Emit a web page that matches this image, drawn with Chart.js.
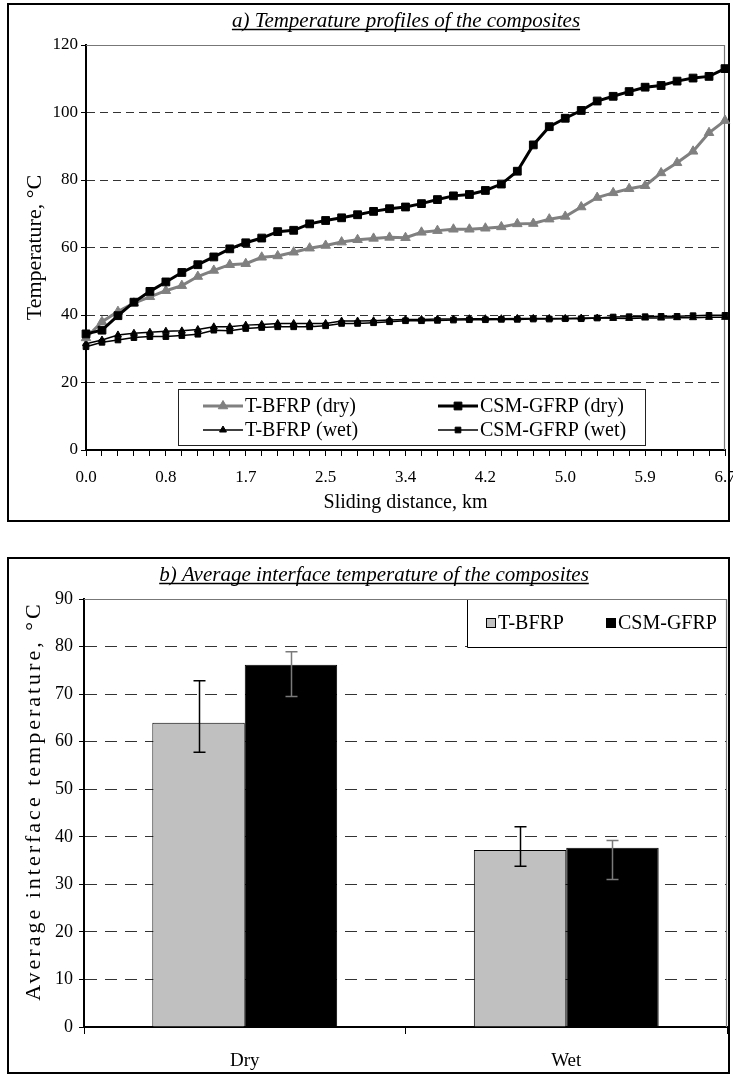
<!DOCTYPE html>
<html><head><meta charset="utf-8">
<script src="https://cdn.jsdelivr.net/npm/chart.js@4.4.1/dist/chart.umd.min.js"></script>
<style>
html,body{margin:0;padding:0;background:#fff;}
body{width:733px;height:1076px;position:relative;overflow:hidden;}
.frame{position:absolute;border:2px solid #000;box-sizing:border-box;}
canvas{position:absolute;left:0;}
</style></head>
<body>
<div class="frame" style="left:7px;top:3px;width:723px;height:519px"></div>
<div class="frame" style="left:7px;top:557px;width:723px;height:517px"></div>
<canvas id="c1" width="733" height="525" style="top:0"></canvas>
<canvas id="c2" width="733" height="546" style="top:530px"></canvas>
<script>
// ---------- data: chart a ----------
const distances = [0.00,0.17,0.34,0.50,0.67,0.84,1.01,1.17,1.34,1.51,1.68,1.84,2.01,2.18,2.35,2.51,2.68,2.85,3.02,3.18,3.35,3.52,3.69,3.85,4.02,4.19,4.36,4.52,4.69,4.86,5.03,5.19,5.36,5.53,5.70,5.86,6.03,6.20,6.37,6.53,6.70];
const distanceTickLabels = ['0.0','0.8','1.7','2.5','3.4','4.2','5.0','5.9','6.7'];
const tbfrpDry = [33.2,38.0,41.0,43.5,45.4,47.2,48.7,51.4,53.2,54.9,55.2,57.1,57.5,58.6,59.8,60.6,61.6,62.3,62.7,63.0,62.9,64.5,65.0,65.4,65.4,65.7,66.1,67.0,67.1,68.4,69.2,72.0,74.8,76.2,77.4,78.3,82.1,85.1,88.5,94.0,97.6];
const csmDry = [34.4,35.5,39.8,43.8,47.0,49.8,52.6,54.9,57.2,59.6,61.4,62.8,64.7,65.1,67.0,68.0,68.8,69.7,70.7,71.5,72.0,73.0,74.2,75.3,75.7,76.9,78.8,82.6,90.4,95.8,98.3,100.6,103.4,104.8,106.2,107.5,108.0,109.3,110.2,110.7,113.0];
const tbfrpWet = [31.5,32.6,34.1,34.6,34.9,35.2,35.3,35.7,36.5,36.5,37.0,37.2,37.5,37.5,37.5,37.5,38.2,38.2,38.3,38.5,38.7,38.7,38.8,38.8,38.9,38.9,38.9,39.0,39.0,39.0,39.0,39.1,39.1,39.0,39.0,39.1,39.1,39.2,39.2,39.3,39.3];
const csmWet = [30.6,31.9,32.6,33.3,33.6,33.6,33.9,34.3,35.5,35.3,36.0,36.3,36.5,36.5,36.5,36.8,37.5,37.5,37.7,38.0,38.3,38.3,38.4,38.5,38.6,38.6,38.7,38.7,38.8,38.8,38.9,38.9,39.1,39.4,39.5,39.5,39.6,39.6,39.8,39.9,39.9];
const tempMin = 0, tempMax = 120, tempStep = 20;

// ---------- data: chart b ----------
const barCategories = ['Dry','Wet'];
const barTbfrp = [64.0, 37.2];
const barCsm = [76.2, 37.7];
const errTbfrpLow = [57.8, 33.8];
const errTbfrpHigh = [72.8, 42.1];
const errCsmLow = [69.5, 31.0];
const errCsmHigh = [78.9, 39.2];
const avgMin = 0, avgMax = 90, avgStep = 10;

const SERIF = "'Liberation Serif','Times New Roman',serif";
Chart.defaults.font.family = SERIF;
Chart.defaults.color = '#000';

function drawMarker(ctx, style, r, x, y, fill, stroke, bw) {
  ctx.beginPath();
  if (style === 'rect') {
    const s = r * Math.SQRT1_2;
    ctx.rect(x - s, y - s, 2 * s, 2 * s);
  } else {
    ctx.moveTo(x, y - r);
    ctx.lineTo(x + 0.866 * r, y + 0.5 * r);
    ctx.lineTo(x - 0.866 * r, y + 0.5 * r);
    ctx.closePath();
  }
  ctx.fillStyle = fill; ctx.fill();
  if (bw) { ctx.lineWidth = bw; ctx.strokeStyle = stroke; ctx.stroke(); }
}

function titlePlugin(text, x, baseline, size) {
  return {
    id: 'ulTitle',
    afterDraw(chart) {
      const ctx = chart.ctx;
      ctx.save();
      ctx.font = `italic ${size}px ${SERIF}`;
      ctx.fillStyle = '#000';
      ctx.textAlign = 'center';
      ctx.textBaseline = 'alphabetic';
      ctx.fillText(text, x, baseline);
      const w = ctx.measureText(text).width;
      ctx.strokeStyle = '#000'; ctx.lineWidth = 1.3;
      ctx.beginPath();
      ctx.moveTo(x - w / 2, baseline + 2.5);
      ctx.lineTo(x + w / 2, baseline + 2.5);
      ctx.stroke();
      ctx.restore();
    }
  };
}

const plotFrame = {
  id: 'plotFrame',
  beforeDatasetsDraw(chart) {
    const {left, top, right, bottom} = chart.chartArea;
    const ctx = chart.ctx;
    ctx.save();
    ctx.strokeStyle = '#777'; ctx.lineWidth = 1.2;
    ctx.beginPath();
    ctx.moveTo(left, top + 0.5);
    ctx.lineTo(right - 0.5, top + 0.5);
    ctx.lineTo(right - 0.5, bottom);
    ctx.stroke();
    ctx.restore();
  }
};

// ---------- chart a ----------
const legendA = {
  id: 'legendA',
  afterDraw(chart) {
    const ctx = chart.ctx;
    ctx.save();
    ctx.fillStyle = '#fff';
    ctx.fillRect(178, 389, 467, 56);
    ctx.strokeStyle = '#222'; ctx.lineWidth = 1;
    ctx.strokeRect(178.5, 389.5, 467, 56);
    const items = [{ds: 0, x: 203, y: 406}, {ds: 1, x: 438, y: 406}, {ds: 2, x: 203, y: 430}, {ds: 3, x: 438, y: 430}];
    items.forEach(it => {
      const ds = chart.data.datasets[it.ds];
      ctx.strokeStyle = ds.borderColor; ctx.lineWidth = ds.borderWidth;
      ctx.beginPath(); ctx.moveTo(it.x, it.y); ctx.lineTo(it.x + 40, it.y); ctx.stroke();
      drawMarker(ctx, ds.pointStyle, ds.pointRadius, it.x + 20, it.y, ds.pointBackgroundColor, ds.pointBorderColor, ds.pointBorderWidth);
      ctx.fillStyle = '#000';
      ctx.font = `20px ${SERIF}`;
      ctx.textAlign = 'left'; ctx.textBaseline = 'middle';
      ctx.fillText(ds.label, it.x + 42, it.y + 1);
    });
    ctx.restore();
  }
};

new Chart(document.getElementById('c1'), {
  type: 'line',
  data: {
    labels: distances,
    datasets: [
      {label: 'T-BFRP (dry)', data: tbfrpDry, borderColor: '#808080', backgroundColor: '#808080', borderWidth: 3,
       pointStyle: 'triangle', pointRadius: 5.5, pointBackgroundColor: '#808080', pointBorderColor: '#808080', pointBorderWidth: 1, order: 2},
      {label: 'CSM-GFRP (dry)', data: csmDry, borderColor: '#000', backgroundColor: '#000', borderWidth: 3,
       pointStyle: 'rect', pointRadius: 5.5, pointBackgroundColor: '#000', pointBorderColor: '#000', pointBorderWidth: 1, order: 1},
      {label: 'T-BFRP (wet)', data: tbfrpWet, borderColor: '#000', backgroundColor: '#000', borderWidth: 1.5,
       pointStyle: 'triangle', pointRadius: 4, pointBackgroundColor: '#000', pointBorderColor: '#000', pointBorderWidth: 1, order: 3},
      {label: 'CSM-GFRP (wet)', data: csmWet, borderColor: '#000', backgroundColor: '#000', borderWidth: 1.5,
       pointStyle: 'rect', pointRadius: 4, pointBackgroundColor: '#000', pointBorderColor: '#000', pointBorderWidth: 1, order: 4}
    ]
  },
  options: {
    responsive: false, animation: false,
    layout: {padding: {left: 10, right: 8, top: 45, bottom: 0}},
    elements: {line: {tension: 0}},
    plugins: {legend: {display: false}, tooltip: {enabled: false}},
    scales: {
      x: {
        type: 'category', offset: false,
        ticks: {autoSkip: false, maxRotation: 0, minRotation: 0, font: {size: 17}, color: '#000', padding: 11,
                callback: (v, i) => (i % 5 === 0 ? distanceTickLabels[i / 5] : '')},
        grid: {drawOnChartArea: false, offset: false, tickLength: 6, tickColor: '#000', tickWidth: 1},
        border: {color: '#000', width: 2},
        title: {display: true, text: 'Sliding distance, km', font: {size: 20}, color: '#000', padding: {top: 0, bottom: 10}},
        afterFit(s) { s.height = 75; s.paddingLeft = 0; s.paddingRight = 0; }
      },
      y: {
        min: tempMin, max: tempMax,
        ticks: {stepSize: tempStep, font: {size: 17}, color: '#000', padding: 3},
        grid: {color: c => (c.tick.value === tempMin || c.tick.value === tempMax) ? 'rgba(0,0,0,0)' : '#333',
               lineWidth: 1, tickLength: 5, tickColor: '#000', tickBorderDash: [], tickWidth: 1},
        border: {color: '#000', width: 2, dash: [8, 5]},
        title: {display: true, text: 'Temperature, °C', font: {size: 22}, color: '#000', padding: {top: 12, bottom: 0}},
        afterFit(s) { s.width = 76; s.paddingTop = 0; s.paddingBottom = 0; }
      }
    }
  },
  plugins: [plotFrame, legendA, titlePlugin('a) Temperature profiles of the composites', 406, 27, 21)]
});

// ---------- chart b ----------
const errorBars = {
  id: 'errorBars',
  afterDatasetsDraw(chart) {
    const ctx = chart.ctx;
    const ys = chart.scales.y;
    const sets = [{low: errTbfrpLow, high: errTbfrpHigh, color: '#000'}, {low: errCsmLow, high: errCsmHigh, color: '#7a7a7a'}];
    ctx.save();
    sets.forEach((es, d) => {
      chart.getDatasetMeta(d).data.forEach((bar, i) => {
        const x = Math.round(bar.x) + 0.5;
        const yl = ys.getPixelForValue(es.low[i]);
        const yh = ys.getPixelForValue(es.high[i]);
        ctx.strokeStyle = es.color; ctx.lineWidth = 1.5;
        ctx.beginPath();
        ctx.moveTo(x, yl); ctx.lineTo(x, yh);
        ctx.moveTo(x - 6, yl); ctx.lineTo(x + 6, yl);
        ctx.moveTo(x - 6, yh); ctx.lineTo(x + 6, yh);
        ctx.stroke();
      });
    });
    ctx.restore();
  }
};

const legendB = {
  id: 'legendB',
  afterDraw(chart) {
    const ctx = chart.ctx;
    ctx.save();
    ctx.fillStyle = '#fff';
    ctx.fillRect(467, 69, 260, 48);
    ctx.strokeStyle = '#000'; ctx.lineWidth = 1;
    ctx.beginPath();
    ctx.moveTo(467.5, 69); ctx.lineTo(467.5, 117.5); ctx.lineTo(727, 117.5);
    ctx.stroke();
    ctx.strokeStyle = '#777'; ctx.lineWidth = 1.2;
    ctx.beginPath(); ctx.moveTo(467, 69.5); ctx.lineTo(726.5, 69.5); ctx.lineTo(726.5, 117); ctx.stroke();
    const items = [{ds: 0, x: 486}, {ds: 1, x: 606}];
    items.forEach(it => {
      const ds = chart.data.datasets[it.ds];
      ctx.fillStyle = ds.backgroundColor;
      ctx.fillRect(it.x, 88, 10, 10);
      ctx.strokeStyle = '#000'; ctx.lineWidth = 1;
      ctx.strokeRect(it.x + 0.5, 88.5, 9, 9);
      ctx.fillStyle = '#000';
      ctx.font = `20px ${SERIF}`;
      ctx.textAlign = 'left'; ctx.textBaseline = 'middle';
      ctx.fillText(ds.label, it.x + 12, 94);
    });
    ctx.restore();
  }
};

const yTitleB = {
  id: 'yTitleB',
  afterDraw(chart) {
    const ctx = chart.ctx;
    ctx.save();
    ctx.translate(34, 271);
    ctx.rotate(-Math.PI / 2);
    ctx.font = `22px ${SERIF}`;
    ctx.fillStyle = '#000';
    ctx.textAlign = 'center'; ctx.textBaseline = 'middle';
    try { ctx.letterSpacing = '3px'; } catch (e) {}
    ctx.fillText('Average interface temperature, °C', 0, 0);
    ctx.restore();
  }
};

new Chart(document.getElementById('c2'), {
  type: 'bar',
  data: {
    labels: barCategories,
    datasets: [
      {label: 'T-BFRP', data: barTbfrp, backgroundColor: '#c0c0c0', borderColor: '#000', borderWidth: 1},
      {label: 'CSM-GFRP', data: barCsm, backgroundColor: '#000', borderColor: '#000', borderWidth: 1}
    ]
  },
  options: {
    responsive: false, animation: false,
    layout: {padding: {left: 10, right: 6, top: 69, bottom: 0}},
    datasets: {bar: {categoryPercentage: 0.575, barPercentage: 1.0}},
    plugins: {legend: {display: false}, tooltip: {enabled: false}},
    scales: {
      x: {
        type: 'category', offset: true,
        ticks: {font: {size: 19}, color: '#000', padding: 16},
        grid: {drawOnChartArea: false, offset: true, tickLength: 7, tickColor: '#000', tickWidth: 1},
        border: {color: '#000', width: 2},
        afterFit(s) { s.height = 49; s.paddingLeft = 0; s.paddingRight = 0; }
      },
      y: {
        min: avgMin, max: avgMax,
        ticks: {stepSize: avgStep, font: {size: 18}, color: '#000', padding: 6},
        grid: {color: c => (c.tick.value === avgMin || c.tick.value === avgMax) ? 'rgba(0,0,0,0)' : '#333',
               lineWidth: 1, tickLength: 5, tickColor: '#000', tickBorderDash: [], tickWidth: 1},
        border: {color: '#000', width: 2, dash: [12, 8]},
        afterFit(s) { s.width = 74; s.paddingTop = 0; s.paddingBottom = 0; }
      }
    }
  },
  plugins: [plotFrame, errorBars, legendB, yTitleB, titlePlugin('b) Average interface temperature of the composites', 374, 51, 21)]
});
</script>
</body></html>
